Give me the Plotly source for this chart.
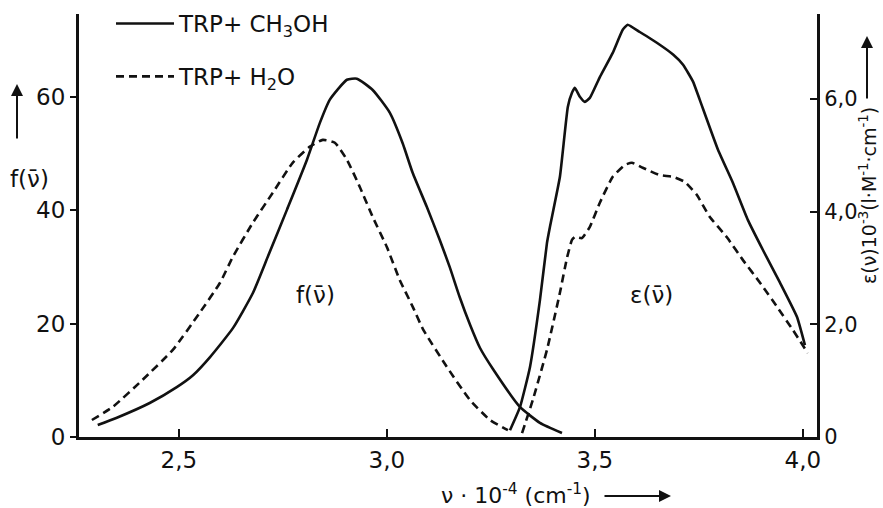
import plotly.graph_objects as go

# ---- data (x in 10^4 cm^-1) ----
f_meoh_x = [2.305, 2.351, 2.430, 2.495, 2.534, 2.575, 2.630, 2.678, 2.715, 2.760, 2.808, 2.839, 2.863,
            2.904, 2.928, 2.966, 3.007, 3.038, 3.062, 3.096, 3.127, 3.151, 3.175, 3.200, 3.224,
            3.255, 3.320, 3.368, 3.421]
f_meoh_y = [2.1, 3.4, 6.0, 8.8, 10.9, 14.1, 19.2, 25.4, 32.0, 40.1, 48.9, 55.4, 59.5,
            63.0, 63.2, 61.2, 57.2, 51.8, 46.6, 40.6, 34.8, 30.0, 24.7, 19.8, 15.7,
            12.0, 5.3, 2.5, 0.7]

f_h2o_x = [2.291, 2.341, 2.413, 2.486, 2.550, 2.599, 2.630, 2.678, 2.726, 2.774, 2.815, 2.846, 2.875,
           2.904, 2.935, 2.966, 3.000, 3.031, 3.062, 3.087, 3.144, 3.200, 3.248, 3.291]
f_h2o_y = [3.0, 5.3, 10.1, 15.4, 21.9, 27.2, 31.8, 37.8, 43.1, 48.4, 51.2, 52.4, 51.9,
           48.9, 44.1, 38.8, 33.5, 27.7, 23.0, 19.0, 12.4, 6.5, 3.0, 1.2]

eps_meoh_x = [3.296, 3.320, 3.344, 3.368, 3.385, 3.392, 3.416, 3.435, 3.445, 3.452, 3.464, 3.476, 3.488,
              3.512, 3.543, 3.567, 3.579, 3.608, 3.649, 3.688, 3.712, 3.736, 3.752, 3.796, 3.832,
              3.868, 3.904, 3.945, 3.986, 4.005]
eps_meoh_y = [0.12, 0.53, 1.24, 2.43, 3.45, 3.73, 4.62, 5.86, 6.11, 6.20, 6.04, 5.95, 6.02,
              6.39, 6.82, 7.23, 7.32, 7.19, 7.00, 6.79, 6.61, 6.31, 5.99, 5.10, 4.51,
              3.85, 3.32, 2.74, 2.13, 1.63]

eps_h2o_x = [3.325, 3.351, 3.385, 3.416, 3.433, 3.445, 3.452, 3.469, 3.488, 3.512, 3.543, 3.572, 3.589,
             3.615, 3.656, 3.688, 3.716, 3.745, 3.776, 3.817, 3.856, 3.897, 3.938, 3.976, 4.012]
eps_h2o_y = [0.07, 0.66, 1.55, 2.56, 3.18, 3.50, 3.55, 3.53, 3.73, 4.16, 4.62, 4.83, 4.87,
             4.78, 4.65, 4.62, 4.53, 4.30, 3.91, 3.55, 3.14, 2.74, 2.31, 1.90, 1.49]

x_ticks = [2.5, 3.0, 3.5, 4.0]
x_ticktext = ["2,5", "3,0", "3,5", "4,0"]
f_ticks = [0, 20, 40, 60]
f_ticktext = ["0", "20", "40", "60"]
eps_ticks = [0, 2, 4, 6]
eps_ticktext = ["0", "2,0", "4,0", "6,0"]

legend_meoh = "TRP+ CH<sub>3</sub>OH"
legend_h2o = "TRP+ H<sub>2</sub>O"

FONT = "DejaVu Sans"
BLACK = "#111111"
LW = 2.6
DASH = "8px,5px"
FS = 23

fig = go.Figure()
fig.add_trace(go.Scatter(x=f_meoh_x, y=f_meoh_y, mode="lines", name=legend_meoh,
                         legendgroup="a", line=dict(color=BLACK, width=LW, shape="spline", smoothing=0.5),
                         yaxis="y"))
fig.add_trace(go.Scatter(x=eps_meoh_x, y=eps_meoh_y, mode="lines", name=legend_meoh, showlegend=False,
                         legendgroup="a", line=dict(color=BLACK, width=LW, shape="spline", smoothing=0.4),
                         yaxis="y2"))
fig.add_trace(go.Scatter(x=f_h2o_x, y=f_h2o_y, mode="lines", name=legend_h2o,
                         legendgroup="b", line=dict(color=BLACK, width=LW, dash=DASH, shape="spline", smoothing=0.5),
                         yaxis="y"))
fig.add_trace(go.Scatter(x=eps_h2o_x, y=eps_h2o_y, mode="lines", name=legend_h2o, showlegend=False,
                         legendgroup="b", line=dict(color=BLACK, width=LW, dash=DASH, shape="spline", smoothing=0.4),
                         yaxis="y2"))

W, H = 883, 508
L, R, T, B = 79, 66, 14, 71
pw, ph = W - L - R, H - T - B


def px(xp):
    return (xp - L) / pw


def py(yp):
    return (H - B - yp) / ph


fig.update_layout(
    width=W, height=H,
    margin=dict(l=L, r=R, t=T, b=B, autoexpand=False),
    paper_bgcolor="white", plot_bgcolor="white",
    font=dict(family=FONT, size=FS, color=BLACK),
    showlegend=True,
    legend=dict(xref="container", yref="container", x=111 / W, y=1 - 2 / H,
                xanchor="left", yanchor="top",
                bgcolor="rgba(0,0,0,0)", font=dict(size=FS, family=FONT, color=BLACK),
                tracegroupgap=20, traceorder="grouped", itemwidth=58),
    xaxis=dict(range=[2.26, 4.034], showline=True, linecolor=BLACK, linewidth=3,
               ticks="inside", ticklen=8, tickwidth=2, tickcolor=BLACK,
               tickvals=x_ticks, ticktext=x_ticktext, showgrid=False, zeroline=False,
               tickfont=dict(size=FS)),
    yaxis=dict(range=[0, 74.6], showline=True, linecolor=BLACK, linewidth=3,
               ticks="outside", ticklen=6, tickwidth=2, tickcolor=BLACK,
               tickvals=f_ticks, ticktext=f_ticktext, showgrid=False, zeroline=False,
               tickfont=dict(size=FS)),
    yaxis2=dict(range=[0, 7.51], overlaying="y", side="right", showline=True, linecolor=BLACK,
                linewidth=3, ticks="inside", ticklen=7, tickwidth=2, tickcolor=BLACK,
                tickvals=eps_ticks, ticktext=eps_ticktext, showgrid=False, zeroline=False,
                tickfont=dict(size=21)),
)

C = dict(xanchor="center", yanchor="middle")
annotations = [
    # in-plot labels
    dict(x=2.829, y=25, xref="x", yref="y", text="f(ν\u0304)", showarrow=False,
         font=dict(size=FS), **C),
    dict(x=3.637, y=25, xref="x", yref="y", text="ε(ν\u0304)", showarrow=False,
         font=dict(size=FS), **C),
    # left axis label
    dict(x=px(29), y=py(179), xref="paper", yref="paper", text="f(ν\u0304)", showarrow=False,
         font=dict(size=FS), **C),
    dict(x=px(17), y=py(84), xref="paper", yref="paper", text="", showarrow=True,
         ax=0, ay=56, arrowhead=2, arrowsize=1.2, arrowwidth=2, arrowcolor=BLACK),
    # x axis label
    dict(x=px(516), y=py(494), xref="paper", yref="paper",
         text="ν · 10<sup>-4</sup> (cm<sup>-1</sup>)", showarrow=False, font=dict(size=22), **C),
    dict(x=px(671), y=py(496), xref="paper", yref="paper", text="", showarrow=True,
         ax=-68, ay=0, arrowhead=2, arrowsize=1.2, arrowwidth=2, arrowcolor=BLACK),
    # right axis label
    dict(x=px(868), y=py(196), xref="paper", yref="paper",
         text="ε(ν)10<sup>-3</sup>(l·M<sup>-1</sup>·cm<sup>-1</sup>)", textangle=-90,
         showarrow=False, font=dict(size=19), **C),
    dict(x=px(867), y=py(36), xref="paper", yref="paper", text="", showarrow=True,
         ax=0, ay=64, arrowhead=2, arrowsize=1.2, arrowwidth=2, arrowcolor=BLACK),
]
fig.update_layout(annotations=annotations)

fig.write_html("out.html", post_script="document.body.style.margin='0';",
               config={"displayModeBar": False})
